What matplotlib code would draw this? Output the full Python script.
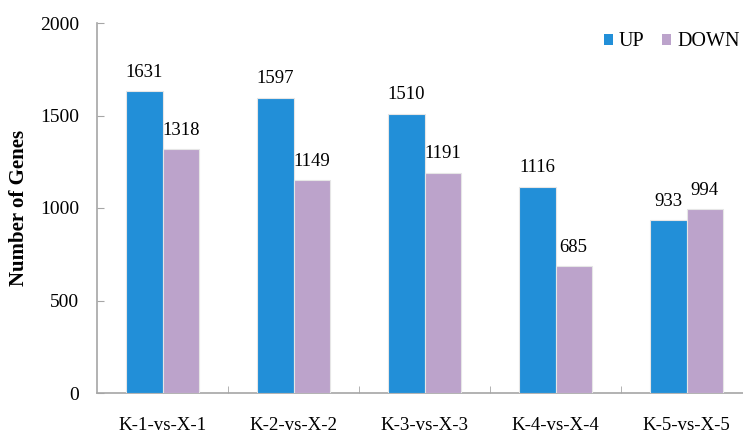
import matplotlib
matplotlib.use("Agg")
import matplotlib.pyplot as plt
from matplotlib.patches import Patch
import numpy as np

categories = ["K-1-vs-X-1", "K-2-vs-X-2", "K-3-vs-X-3", "K-4-vs-X-4", "K-5-vs-X-5"]
up = [1631, 1597, 1510, 1116, 933]
down = [1318, 1149, 1191, 685, 994]
yticks = [0, 500, 1000, 1500, 2000]

plt.rcParams['font.family'] = ['Liberation Serif', 'DejaVu Serif']

W, H = 743, 434
fig = plt.figure(figsize=(W/100, H/100), dpi=100)
ax = fig.add_axes([97/W, (H-393)/H, 655/W, 370/H])

x = np.arange(len(categories))
bw = 0.278
c_up = '#228FD8'
c_down = '#BCA3CB'
ax.bar(x - bw/2, up, bw, color=c_up, edgecolor='#e6e6e6', linewidth=0.8, zorder=3)
ax.bar(x + bw/2, down, bw, color=c_down, edgecolor='#e6e6e6', linewidth=0.8, zorder=3)

for xi, v in zip(x - bw/2, up):
    ax.annotate(str(v), (xi, v), xytext=(0, 10.5), textcoords='offset points',
                ha='center', va='baseline', fontsize=13.5, color='black')
for xi, v in zip(x + bw/2, down):
    ax.annotate(str(v), (xi, v), xytext=(0, 10.5), textcoords='offset points',
                ha='center', va='baseline', fontsize=13.5, color='black')

ax.set_xlim(-0.5, len(categories) - 0.5)
ax.set_ylim(0, 2000)
ax.set_yticks(yticks)
ax.set_yticklabels([str(t) for t in yticks], fontsize=14)
ax.set_xticks(x)
ax.set_xticklabels(categories, fontsize=13.6)
ax.tick_params(axis='x', length=0, pad=17)
ax.tick_params(axis='y', direction='in', length=5, color='#a6a6a6', pad=13)
ax.set_xticks(np.arange(0.5, len(categories) - 0.5, 1.0), minor=True)
ax.tick_params(axis='x', which='minor', direction='in', length=5, color='#a6a6a6')

for s in ['top', 'right']:
    ax.spines[s].set_visible(False)
for s in ['left', 'bottom']:
    ax.spines[s].set_color('#a6a6a6')
    ax.spines[s].set_linewidth(1.2)

ax.set_ylabel('Number of Genes', fontsize=15, fontweight='bold', labelpad=8)

handles = [Patch(facecolor=c_up, label='UP'), Patch(facecolor=c_down, label='DOWN')]
fig.legend(handles=handles, loc='center right', bbox_to_anchor=(740/W, 1 - 42/H), ncol=2,
           frameon=False, fontsize=14.5, handlelength=0.45, handleheight=0.45,
           handletextpad=0.3, columnspacing=0.9, borderaxespad=0.0, borderpad=0.0)

fig.savefig('out.png', dpi=100)
